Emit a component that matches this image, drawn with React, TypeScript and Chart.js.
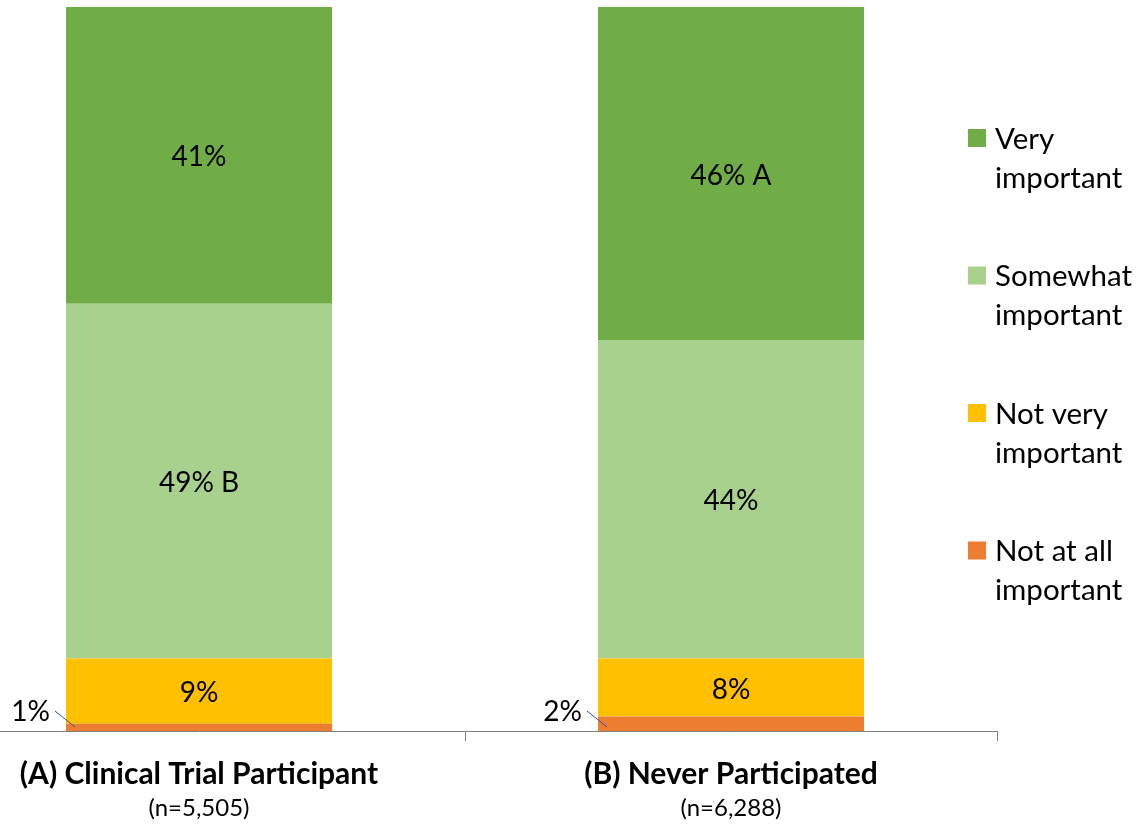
import React, { useEffect, useRef } from "react";
import { Chart, registerables } from "chart.js";

Chart.register(...registerables);

const categories = ["(A) Clinical Trial Participant", "(B) Never Participated"];
const sampleSizes = ["(n=5,505)", "(n=6,288)"];
const seriesNames = ["Not at all important", "Not very important", "Somewhat important", "Very important"];
const notAtAllImportant = [1, 2];
const notVeryImportant = [9, 8];
const somewhatImportant = [49, 44];
const veryImportant = [41, 46];
const notAtAllSuffix = ["", ""];
const notVerySuffix = ["", ""];
const somewhatSuffix = [" B", ""];
const verySuffix = ["", " A"];
const legendLines = [
  ["Very", "important"],
  ["Somewhat", "important"],
  ["Not very", "important"],
  ["Not at all", "important"],
];
const colors = ["#ED7D31", "#FFC000", "#A9D18E", "#70AD47"];

const FONT = "Lato, 'Open Sans', sans-serif";
const OFFSET_X = 67;

const labelPlugin = {
  id: "customLabels",
  afterDatasetsDraw(chart: any) {
    const ctx = chart.ctx;
    const suffixes = [notAtAllSuffix, notVerySuffix, somewhatSuffix, verySuffix];
    ctx.save();
    ctx.fillStyle = "#000";
    ctx.textBaseline = "middle";
    chart.data.datasets.forEach((ds: any, di: number) => {
      const meta = chart.getDatasetMeta(di);
      meta.data.forEach((bar: any, i: number) => {
        const { x, y, base, width } = bar.getProps(["x", "y", "base", "width"], true);
        const txt = ds.data[i] + "%" + suffixes[di][i];
        ctx.font = `28px ${FONT}`;
        if (di === 0) {
          const left = x - width / 2;
          ctx.strokeStyle = "#2F5597";
          ctx.lineWidth = 1;
          ctx.beginPath();
          ctx.moveTo(left - 11, base - 20);
          ctx.lineTo(left + 9, base - 4);
          ctx.stroke();
          ctx.textAlign = "right";
          ctx.fillText(txt, left - 16, base - 19);
        } else {
          ctx.textAlign = "center";
          ctx.fillText(txt, x, (y + base) / 2 + 2);
        }
      });
    });

    const xs = chart.scales.x;
    const bottom = chart.chartArea.bottom;
    ctx.textAlign = "center";
    categories.forEach((c, i) => {
      const cx = xs.getPixelForValue(i);
      ctx.font = `bold 30px ${FONT}`;
      ctx.fillText(c, cx, bottom + 43);
      ctx.font = `24px ${FONT}`;
      ctx.fillText(sampleSizes[i], cx, bottom + 77);
    });

    // legend (top entry = last dataset)
    const sqX = 968 + OFFSET_X;
    const txX = 995 + OFFSET_X;
    const firstY = 139;
    const groupGap = 137.5;
    const lineGap = 39;
    ctx.textAlign = "left";
    ctx.font = `29.5px ${FONT}`;
    legendLines.forEach((lines, k) => {
      const cy = firstY + k * groupGap;
      ctx.fillStyle = colors[colors.length - 1 - k];
      ctx.fillRect(sqX, cy - 10, 18, 18);
      ctx.fillStyle = "#000";
      lines.forEach((ln, j) => ctx.fillText(ln, txX, cy + j * lineGap));
    });
    ctx.restore();
  },
};

export default function App() {
  const ref = useRef<HTMLCanvasElement>(null);
  useEffect(() => {
    if (!ref.current) return;
    const values = [notAtAllImportant, notVeryImportant, somewhatImportant, veryImportant];
    const chart = new Chart(ref.current, {
      type: "bar",
      data: {
        labels: categories,
        datasets: seriesNames.map((name, i) => ({
          label: name,
          data: values[i],
          backgroundColor: colors[i],
          borderWidth: 0,
          categoryPercentage: 1.0,
          barPercentage: 0.5,
        })),
      },
      options: {
        animation: false,
        responsive: true,
        maintainAspectRatio: false,
        layout: { padding: { top: 7, right: 140, left: 0, bottom: 0 } },
        plugins: { legend: { display: false }, tooltip: { enabled: false } },
        scales: {
          x: {
            stacked: true,
            ticks: { display: false },
            grid: {
              display: true,
              drawOnChartArea: false,
              drawTicks: true,
              tickLength: 10,
              color: "#7F7F7F",
              offset: true,
            },
            border: { display: true, color: "#7F7F7F", width: 1 },
            afterFit: (scale: any) => {
              scale.height = 93;
            },
          },
          y: {
            stacked: true,
            display: false,
            min: 0,
            max: 100,
          },
        },
      },
      plugins: [labelPlugin],
    });
    return () => chart.destroy();
  }, []);

  return (
    <div style={{ position: "absolute", left: -OFFSET_X, top: 0, width: 1137 + OFFSET_X, height: 824 }}>
      <canvas ref={ref} />
    </div>
  );
}
